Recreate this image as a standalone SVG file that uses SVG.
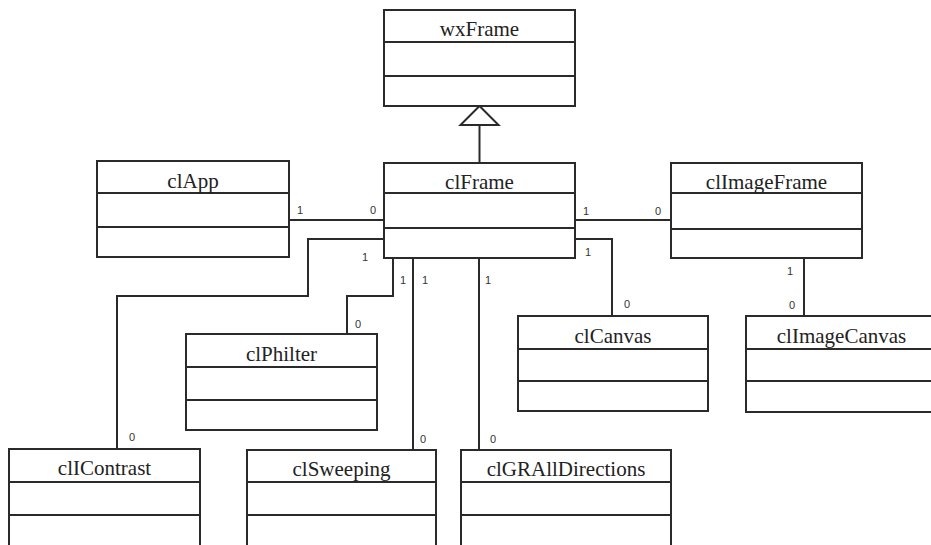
<svg xmlns="http://www.w3.org/2000/svg" width="931" height="545" viewBox="0 0 931 545">
<style>
.box{fill:#fff;stroke:#2a2a2a;stroke-width:2}
.div{stroke:#2a2a2a;stroke-width:2}
.t{font-family:"Liberation Serif","Times New Roman",serif;font-size:21px;fill:#222;text-anchor:middle}
.c{fill:none;stroke:#2a2a2a;stroke-width:2}
.m{font-family:"Liberation Sans",Arial,sans-serif;font-size:11px;fill:#333;text-anchor:middle}
</style>
<rect width="931" height="545" fill="#fff"/>
<g id="connectors">
<path class="c" d="M479.5,163 V125"/>
<polygon points="479.5,106 460.5,125 498.5,125" fill="#fff" stroke="#2a2a2a" stroke-width="2"/>
<path class="c" d="M289,220 H384"/>
<path class="c" d="M575,220 H671"/>
<path class="c" d="M384,239 H308 V296 H117 V449"/>
<path class="c" d="M393,258 V296 H347 V334"/>
<path class="c" d="M413,258 V450"/>
<path class="c" d="M479,258 V450"/>
<path class="c" d="M575,239 H612 V316"/>
<path class="c" d="M804,258 V316"/>
<text class="m" x="300" y="214">1</text>
<text class="m" x="373" y="214">0</text>
<text class="m" x="586" y="215">1</text>
<text class="m" x="658" y="215">0</text>
<text class="m" x="365" y="261">1</text>
<text class="m" x="132" y="441">0</text>
<text class="m" x="403" y="284">1</text>
<text class="m" x="358" y="328">0</text>
<text class="m" x="425" y="284">1</text>
<text class="m" x="423" y="443">0</text>
<text class="m" x="488" y="284">1</text>
<text class="m" x="493" y="443">0</text>
<text class="m" x="588" y="256">1</text>
<text class="m" x="627" y="308">0</text>
<text class="m" x="790" y="275">1</text>
<text class="m" x="792" y="309">0</text>
</g>
<g id="wxFrame">
<rect class="box" x="384" y="10" width="191" height="96"/>
<line class="div" x1="384" y1="42" x2="575" y2="42"/>
<line class="div" x1="384" y1="76" x2="575" y2="76"/>
<text class="t" x="479.5" y="36">wxFrame</text>
</g>
<g id="clFrame">
<rect class="box" x="384" y="163" width="191" height="95"/>
<line class="div" x1="384" y1="193" x2="575" y2="193"/>
<line class="div" x1="384" y1="228" x2="575" y2="228"/>
<text class="t" x="479.5" y="189">clFrame</text>
</g>
<g id="clApp">
<rect class="box" x="97" y="161" width="192" height="96"/>
<line class="div" x1="97" y1="193" x2="289" y2="193"/>
<line class="div" x1="97" y1="227" x2="289" y2="227"/>
<text class="t" x="193" y="188">clApp</text>
</g>
<g id="clImageFrame">
<rect class="box" x="671" y="163" width="191" height="95"/>
<line class="div" x1="671" y1="193" x2="862" y2="193"/>
<line class="div" x1="671" y1="229" x2="862" y2="229"/>
<text class="t" x="766.5" y="189">clImageFrame</text>
</g>
<g id="clPhilter">
<rect class="box" x="186" y="334" width="191" height="96"/>
<line class="div" x1="186" y1="367" x2="377" y2="367"/>
<line class="div" x1="186" y1="400" x2="377" y2="400"/>
<text class="t" x="281.5" y="361">clPhilter</text>
</g>
<g id="clCanvas">
<rect class="box" x="518" y="316" width="190" height="95"/>
<line class="div" x1="518" y1="349" x2="708" y2="349"/>
<line class="div" x1="518" y1="381" x2="708" y2="381"/>
<text class="t" x="613" y="343">clCanvas</text>
</g>
<g id="clImageCanvas">
<rect class="box" x="746" y="316" width="191" height="96"/>
<line class="div" x1="746" y1="349" x2="937" y2="349"/>
<line class="div" x1="746" y1="381" x2="937" y2="381"/>
<text class="t" x="841.5" y="343">clImageCanvas</text>
</g>
<g id="clIContrast">
<rect class="box" x="9" y="449" width="191" height="97"/>
<line class="div" x1="9" y1="482" x2="200" y2="482"/>
<line class="div" x1="9" y1="515" x2="200" y2="515"/>
<text class="t" x="104.5" y="475">clIContrast</text>
</g>
<g id="clSweeping">
<rect class="box" x="247" y="450" width="189" height="96"/>
<line class="div" x1="247" y1="482" x2="436" y2="482"/>
<line class="div" x1="247" y1="515" x2="436" y2="515"/>
<text class="t" x="341.5" y="476">clSweeping</text>
</g>
<g id="clGRAllDirections">
<rect class="box" x="461" y="450" width="210" height="96"/>
<line class="div" x1="461" y1="482" x2="671" y2="482"/>
<line class="div" x1="461" y1="515" x2="671" y2="515"/>
<text class="t" x="566" y="476">clGRAllDirections</text>
</g>
</svg>
